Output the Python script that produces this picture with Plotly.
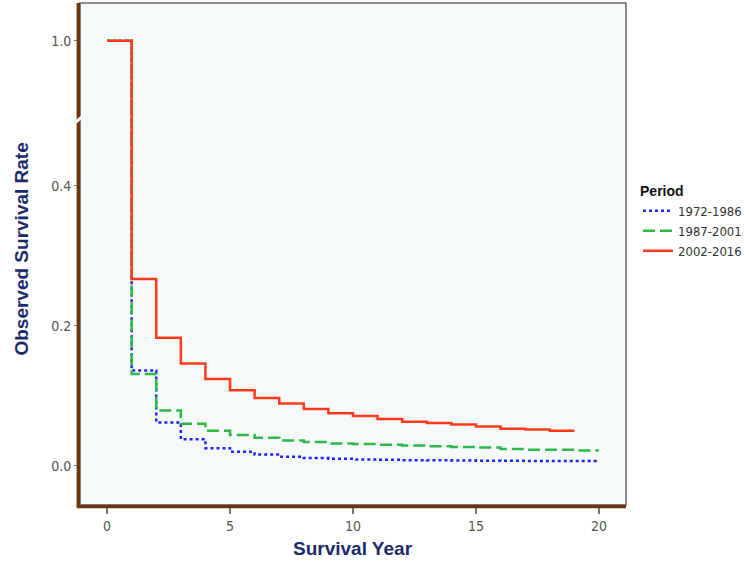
import plotly.graph_objects as go

# Step values: value[i] holds from year i to year i+1
years_2002 = list(range(0, 20))
surv_2002 = [1.0, 0.267, 0.183, 0.146, 0.124, 0.108, 0.097, 0.089, 0.081, 0.075,
             0.071, 0.067, 0.063, 0.061, 0.059, 0.056, 0.053, 0.052, 0.050, 0.050]

years_1987 = list(range(0, 21))
surv_1987 = [1.0, 0.131, 0.079, 0.060, 0.050, 0.044, 0.040, 0.036, 0.034, 0.032,
             0.031, 0.030, 0.029, 0.028, 0.027, 0.026, 0.024, 0.023, 0.023, 0.022, 0.022]

years_1972 = list(range(0, 21))
surv_1972 = [1.0, 0.136, 0.062, 0.038, 0.025, 0.020, 0.016, 0.013, 0.011, 0.010,
             0.009, 0.0086, 0.0081, 0.0078, 0.0076, 0.0073, 0.0071, 0.0070, 0.0068, 0.0067, 0.0067]

series = [
    ("1972-1986", years_1972, surv_1972, "#1f1fff", "dot"),
    ("1987-2001", years_1987, surv_1987, "#2eb84a", "12px,5px"),
    ("2002-2016", years_2002, surv_2002, "#ff3a1a", "solid"),
]

x_ticks = [0, 5, 10, 15, 20]
y_ticks_low = [0.0, 0.2, 0.4]
y_ticks_high = [1.0]

fig = go.Figure()
for name, xs, ys, col, dash in series:
    for ax, show in (("y", True), ("y2", False)):
        fig.add_trace(go.Scatter(
            x=xs, y=ys, mode="lines", name=name, yaxis=ax, showlegend=show,
            legendgroup=name, line=dict(color=col, width=2.5, dash=dash, shape="hv"),
            hoverinfo="skip"))

narrow = "DejaVu Sans Condensed, Liberation Sans Narrow, Arial Narrow, Roboto, sans-serif"
tickfont = dict(family=narrow, size=14, color="#555555")
brk = 0.767

fig.update_layout(
    width=749, height=573,
    margin=dict(l=80, r=123, t=3, b=68, autoexpand=False),
    paper_bgcolor="white",
    plot_bgcolor="#f5f9f9",
    xaxis=dict(range=[-1.1, 21.1], tickvals=x_ticks, ticks="outside", ticklen=8,
               tickcolor="#777777", tickwidth=1.5, showgrid=False, zeroline=False,
               showline=False, tickfont=tickfont, anchor="y", automargin=False),
    yaxis=dict(domain=[0, brk], range=[-0.056, 0.494], tickvals=y_ticks_low,
               tickformat=".1f", ticks="outside", ticklen=5, tickcolor="#777777",
               showgrid=False, zeroline=False, showline=False, tickfont=tickfont,
               automargin=False),
    yaxis2=dict(domain=[brk, 1], range=[0.887, 1.054], tickvals=y_ticks_high,
                tickformat=".1f", ticks="outside", ticklen=5, tickcolor="#777777",
                showgrid=False, zeroline=False, showline=False, tickfont=tickfont,
                anchor="x", automargin=False),
    legend=dict(x=1.022, y=0.652, xanchor="left", yanchor="top",
                bgcolor="rgba(0,0,0,0)", tracegroupgap=0, itemwidth=30,
                font=dict(family=narrow, size=13, color="#333333"),
                title=dict(text="<b>Period</b>", side="top",
                           font=dict(family="Liberation Sans, Arial, sans-serif",
                                     size=14, color="#111111"))),
    showlegend=True,
    shapes=[
        dict(type="rect", xref="paper", yref="paper", x0=0, x1=1, y0=0, y1=1,
             line=dict(color="#666666", width=1.5), layer="above"),
        dict(type="line", xref="paper", yref="paper", x0=-0.003, x1=-0.003, y0=-0.004, y1=1.0,
             line=dict(color="#6b3510", width=3.5), layer="above"),
        dict(type="line", xref="paper", yref="paper", x0=-0.006, x1=1.0, y0=-0.003, y1=-0.003,
             line=dict(color="#6b3510", width=3.5), layer="above"),
        dict(type="line", xref="paper", yref="paper", x0=-0.012, x1=0.006, y0=brk - 0.008, y1=brk + 0.008,
             line=dict(color="#f4f4f4", width=3), layer="above"),
    ],
    annotations=[
        dict(text="<b>Observed Survival Rate</b>", xref="paper", yref="paper",
             x=-0.107, y=0.51, xanchor="center", yanchor="middle", textangle=-90,
             showarrow=False,
             font=dict(family="Liberation Sans, Arial, sans-serif", size=19, color="#1b2a6b")),
        dict(text="<b>Survival Year</b>", xref="paper", yref="paper",
             x=0.5, y=-0.086, xanchor="center", yanchor="middle", showarrow=False,
             font=dict(family="Liberation Sans, Arial, sans-serif", size=19, color="#1b2a6b")),
    ],
)

fig.write_html("out.html", config={"displayModeBar": False},
               post_script="document.body.style.margin='0';")
